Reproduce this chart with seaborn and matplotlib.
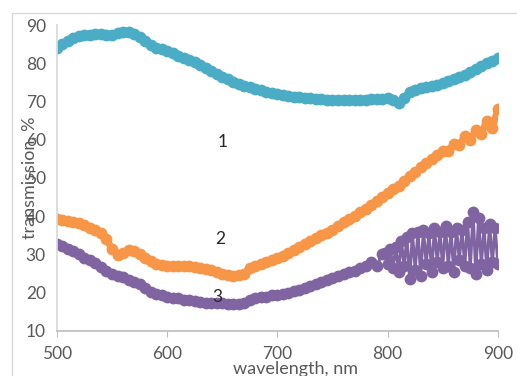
import matplotlib
matplotlib.use("Agg")
import matplotlib.pyplot as plt
import seaborn as sns
import pandas as pd
import numpy as np
from matplotlib.patches import Rectangle

# wavelength grid (nm), 5 nm step
wavelength = list(range(500, 905, 5))

# curve 1 (cyan)
trans_1 = [84.0, 85.0, 85.8, 86.5, 87.0, 87.3, 87.5, 87.6, 87.6, 87.5,
           87.5, 87.8, 88.1, 88.2, 87.7, 86.8, 85.7, 84.8, 84.1, 83.6,
           83.2, 82.6, 82.0, 81.4, 80.8, 80.2, 79.5, 78.8, 78.0, 77.2,
           76.5, 75.8, 75.1, 74.6, 74.1, 73.7, 73.3, 72.9, 72.6, 72.3,
           72.0, 71.7, 71.5, 71.3, 71.1, 70.9, 70.8, 70.7, 70.6, 70.5,
           70.4, 70.4, 70.4, 70.4, 70.4, 70.5, 70.5, 70.6, 70.6, 70.7,
           70.8, 70.4, 69.5, 71.0, 72.5, 73.0, 73.4, 73.8, 74.1, 74.4,
           74.8, 75.3, 75.8, 76.4, 77.0, 77.7, 78.5, 79.3, 80.0, 80.7,
           81.4]

# curve 2 (orange)
trans_2 = [39.3, 39.0, 38.8, 38.5, 38.2, 37.7, 37.0, 36.3, 35.5, 34.0,
           31.5, 29.8, 30.5, 31.2, 31.0, 30.0, 29.0, 28.2, 27.5, 27.2,
           27.0, 27.0, 27.0, 27.0, 27.0, 26.8, 26.5, 26.3, 26.0, 25.3,
           24.8, 24.6, 24.5, 24.6, 25.0, 26.5, 27.0, 27.5, 28.0, 28.5,
           29.0, 29.7, 30.5, 31.2, 32.0, 32.7, 33.5, 34.2, 35.0, 35.7,
           36.5, 37.5, 38.5, 39.2, 40.0, 41.0, 42.0, 43.0, 44.0, 45.0,
           46.0, 47.0, 48.0, 49.3, 50.5, 51.5, 53.0, 53.8, 55.0, 56.0,
           57.0, 57.0, 59.0, 58.5, 61.0, 60.0, 62.5, 61.5, 65.0, 63.0,
           68.0]

# curve 3 (purple): 5 nm step up to 795, then 2.5 nm step (noisy part)
wavelength_3 = list(range(500, 800, 5)) + list(np.arange(797.5, 900.1, 2.5))
trans_3 = [32.7, 32.1, 31.5, 30.8, 30.0, 29.2, 28.5, 27.7, 26.8, 25.8,
           25.0, 24.5, 24.0, 23.4, 22.8, 22.2, 21.3, 20.3, 19.8, 19.3,
           19.0, 18.7, 18.5, 18.2, 18.0, 17.8, 17.6, 17.4, 17.3, 17.2,
           17.2, 17.1, 17.0, 17.1, 17.3, 18.0, 18.5, 18.8, 19.0, 19.3,
           19.5, 19.8, 20.0, 20.4, 20.8, 21.3, 21.8, 22.3, 22.8, 23.3,
           23.8, 24.3, 24.8, 25.3, 25.8, 26.4, 27.0, 28.0, 27.0, 30.0,
           30.5, 27.5, 31.5, 26.5, 32.0, 25.5, 33.5, 27.0, 34.5, 23.5,
           35.5, 26.0, 36.0, 24.5, 36.5, 27.5, 35.5, 25.5, 37.0, 28.0,
           36.0, 26.5, 37.5, 27.0, 36.0, 25.5, 37.0, 28.5, 36.5, 27.0,
           38.5, 26.5, 41.0, 25.0, 39.5, 27.5, 37.0, 26.0, 38.0, 28.0,
           37.0, 27.5]

curve_labels = ["1", "2", "3"]
label_pos = [(650, 59.5), (648, 34.0), (646, 18.9)]
colors = ["#4BACC6", "#F79646", "#8064A2"]
line_widths = [5, 5, 2.2]

sns.set_theme(style="white")
plt.rcParams["font.family"] = ["Lato", "DejaVu Sans"]

fig = plt.figure(figsize=(5.17, 3.76), dpi=100)
ax = fig.add_axes([0.110, 0.1197, 0.853, 0.8138])

series = [(wavelength, trans_1), (wavelength, trans_2), (wavelength_3, trans_3)]
for (wl, vals), col, lw in zip(series, colors, line_widths):
    df = pd.DataFrame({"wl": wl, "t": vals})
    sns.lineplot(data=df, x="wl", y="t", ax=ax, color=col, estimator=None,
                 sort=False, linewidth=lw, marker="o", markersize=8.5,
                 markeredgewidth=0)

for lab, (x, y) in zip(curve_labels, label_pos):
    ax.text(x, y, lab, fontsize=12.5, color="#262626", ha="center", va="center")

ax.set_xlim(500, 900)
ax.set_ylim(10, 90)
ax.set_xticks([500, 600, 700, 800, 900])
ax.set_yticks([10, 20, 30, 40, 50, 60, 70, 80, 90])
ax.tick_params(axis="x", colors="#595959", labelsize=12.5, length=4,
               direction="out", bottom=True, width=0.8, pad=7)
ax.tick_params(axis="x", color="#BFBFBF")
ax.tick_params(axis="y", colors="#595959", labelsize=12.5, length=0, pad=8)

for s in ["top", "right"]:
    ax.spines[s].set_visible(False)
ax.spines["left"].set_color("#D9D9D9")
ax.spines["bottom"].set_color("#BFBFBF")

ax.set_xlabel("wavelength, nm", fontsize=13, color="#595959")
ax.set_ylabel("transmission, %", fontsize=13, color="#595959")
ax.xaxis.set_label_coords(0.542, -0.124)
ax.yaxis.set_label_coords(-0.061, 0.5)
ax.xaxis.label.set_va("center")
ax.yaxis.label.set_va("center")

# chart area border
fig.patches.append(Rectangle((12 / 517, -0.1), 1.0, (376 - 13) / 376 + 0.1,
                             transform=fig.transFigure, fill=False,
                             edgecolor="#D9D9D9", linewidth=1))

fig.savefig("out.png", dpi=100)
